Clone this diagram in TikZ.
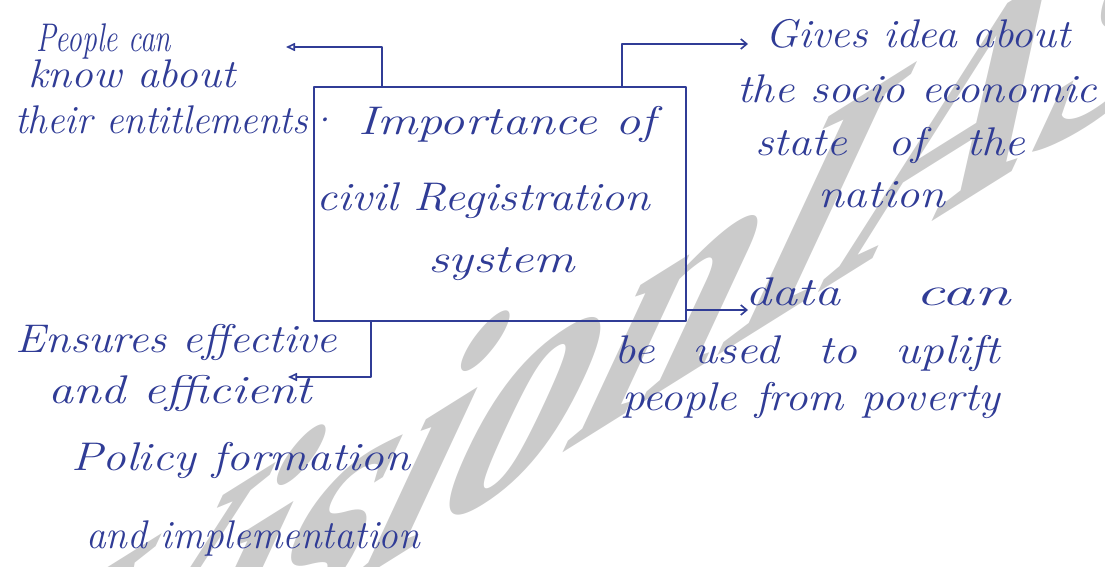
\documentclass[tikz,border=0pt]{standalone}
\usepackage{fontspec}
\usepackage{graphicx}
\usetikzlibrary{arrows.meta}
\newfontfamily\wmfont{Liberation Serif}
\definecolor{ink}{RGB}{48,60,150}
\definecolor{wm}{RGB}{203,203,203}
% set a line of handwriting to a given width, keeping its height
\newcommand\fitw[2]{\resizebox{#1}{\height}{#2}}
% spread the words of a line over a given width
\newcommand\spread[2]{\makebox[#1][s]{#2}}

\begin{document}
\begin{tikzpicture}[x=1pt,y=1pt,
  hand/.style={inner sep=0pt, anchor=base west, text=ink,
               font=\fontsize{40}{40}\selectfont\itshape},
  pen/.style={draw=ink, line width=1.8pt, line cap=round, line join=round},
  toleft/.style={pen, -{Triangle[open, length=9pt, width=8pt, line width=1.6pt]}},
  toright/.style={pen, -{Straight Barb[length=6pt, width=10pt, line width=1.6pt]}}]
\useasboundingbox (0,0) rectangle (1105,-567);

% watermark lettering
\begin{scope}
\clip (0,0) rectangle (1105,-567);
\begin{scope}[cm={2.75,1.72,1.70,3.65,(-31pt,-824pt)}]
\node[transform shape, anchor=base west, inner sep=0pt, text=wm,
      font=\wmfont\bfseries\fontsize{100}{100}\selectfont] (wmark) at (0,0) {VisionIAS};
\end{scope}
\end{scope}

% central box
\node[pen, rectangle, inner sep=0pt, minimum width=372pt, minimum height=234pt,
      anchor=north west] (box) at (313,-86) {};
\node[hand] (c1) at (358,-135) {\fitw{297pt}{Importance of}};
\node[hand] (c2) at (316,-210) {\fitw{334pt}{civil Registration}};
\node[hand] (c3) at (428,-272) {\fitw{147pt}{system}};

% top left
\node[hand] (a1) at (36,-52) {\fitw{135pt}{People can}};
\node[hand] (a2) at (28,-88) {\fitw{207pt}{know about}};
\node[hand] (a3) at (15,-133) {\fitw{322pt}{their entitlements\textperiodcentered}};

% top right
\node[hand] (b1) at (765,-48) {\fitw{305pt}{Gives idea about}};
\node[hand] (b2) at (737,-103) {\fitw{360pt}{the socio economic}};
\node[hand] (b3) at (755,-155) {\fitw{270pt}{\spread{235pt}{state of the}}};
\node[hand] (b4) at (818,-207) {\fitw{127pt}{nation}};

% bottom right
\node[hand] (d1) at (745,-305) {\spread{265pt}{\fitw{95pt}{data} \fitw{95pt}{can}}};
\node[hand] (d2) at (614,-363) {\fitw{386pt}{\spread{325pt}{be used to uplift}}};
\node[hand] (d3) at (622,-410) {\fitw{378pt}{\spread{335pt}{people from poverty}}};

% bottom left
\node[hand] (e1) at (15,-352) {\fitw{322pt}{Ensures effective}};
\node[hand] (e2) at (48,-403) {\fitw{264pt}{and efficient}};
\node[hand] (e3) at (71,-470) {\fitw{339pt}{Policy formation}};
\node[hand] (e4) at (86,-548) {\fitw{334pt}{and implementation}};

% connectors
\coordinate (k1) at (382,-47);
\coordinate (tlEnd) at (286,-47);
\coordinate (k2) at (622,-44);
\coordinate (trEnd) at (748,-44);
\coordinate (brEnd) at (748,-310);
\coordinate (k4) at (371,-377);
\coordinate (blEnd) at (288,-377);

\draw[toleft] (box.north -| k1) -- (k1) -- (tlEnd);
\draw[toright] (box.north -| k2) -- (k2) -- (trEnd);
\draw[toright] (box.east |- brEnd) -- (brEnd);
\draw[toleft] (box.south -| k4) -- (k4) -- (blEnd);
\end{tikzpicture}
\end{document}
